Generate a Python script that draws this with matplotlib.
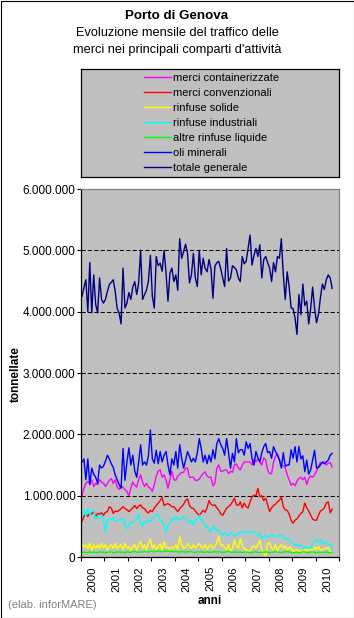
#!/usr/bin/env python3
"""Porto di Genova: monthly cargo traffic by sector, 2000-2010."""

import matplotlib

matplotlib.use("Agg")
import matplotlib.pyplot as plt
from matplotlib.lines import Line2D
from matplotlib.patches import Rectangle
from matplotlib.ticker import FixedLocator, FuncFormatter, NullFormatter

# monthly values in thousand tonnes, Jan 2000 - Sep 2010
containerizzate = [
    1000, 1120, 1200, 1230, 1200, 1260, 1150, 1200, 1180, 1260, 1220, 1200,
    1150, 1200, 1250, 1280, 1200, 1260, 1140, 1100, 1150, 1140, 1100, 1070,
    1000, 1120, 1220, 1170, 1140, 1260, 1340, 1220, 1150, 1200, 1140, 1120,
    1070, 1180, 1320, 1400, 1420, 1300, 1340, 1250, 1120, 1260, 1400, 1260,
    1250, 1320, 1350, 1380, 1380, 1450, 1450, 1300, 1300, 1300, 1250, 1250,
    1270, 1320, 1360, 1390, 1320, 1300, 1300, 1160, 1200, 1450, 1500, 1400,
    1400, 1420, 1420, 1360, 1400, 1380, 1500, 1520, 1450, 1420, 1500, 1550,
    1550, 1550, 1550, 1500, 1600, 1550, 1600, 1550, 1500, 1620, 1580, 1420,
    1360, 1360, 1550, 1640, 1680, 1600, 1500, 1480, 1450, 1340, 1260, 1170,
    1200, 1160, 1240, 1280, 1300, 1260, 1300, 1180, 1280, 1320, 1300, 1340,
    1400, 1480, 1540, 1530, 1550, 1500, 1530, 1540, 1470,
]
convenzionali = [
    580, 660, 710, 660, 720, 700, 740, 660, 710, 700, 720, 680,
    730, 740, 820, 800, 710, 750, 740, 760, 790, 820, 790, 770,
    740, 770, 800, 840, 790, 830, 850, 800, 790, 740, 720, 760,
    740, 800, 840, 880, 920, 970, 840, 860, 870, 850, 820, 820,
    780, 740, 790, 820, 860, 920, 950, 840, 800, 790, 750, 710,
    680, 720, 760, 730, 800, 920, 860, 840, 850, 800, 760, 700,
    680, 740, 800, 820, 850, 900, 960, 850, 840, 900, 800, 880,
    820, 800, 900, 980, 1010, 1000, 1120, 980, 1000, 920, 960, 850,
    740, 800, 840, 860, 900, 920, 980, 820, 770, 760, 700, 600,
    550, 600, 620, 670, 710, 740, 880, 800, 750, 680, 620, 600,
    600, 680, 750, 770, 800, 880, 900, 720, 780,
]
rinfuse_solide = [
    220, 160, 200, 140, 220, 110, 200, 140, 200, 140, 220, 150,
    200, 110, 170, 200, 140, 220, 140, 170, 200, 120, 220, 150,
    170, 110, 170, 200, 110, 200, 250, 140, 200, 120, 220, 290,
    140, 200, 110, 170, 220, 110, 250, 150, 160, 120, 160, 140,
    200, 120, 330, 200, 140, 160, 220, 170, 140, 200, 150, 180,
    220, 170, 140, 200, 120, 180, 200, 140, 170, 240, 330, 180,
    200, 150, 120, 200, 90, 140, 280, 180, 140, 300, 180, 140,
    120, 100, 100, 160, 180, 140, 200, 280, 120, 60, 10, 220,
    240, 140, 120, 200, 90, 160, 200, 140, 180, 110, 160, 140,
    90, 110, 120, 90, 110, 80, 120, 100, 140, 120, 100, 160,
    120, 170, 110, 120, 140, 140, 160, 90, 70,
]
rinfuse_industriali = [
    700, 770, 660, 790, 700, 740, 760, 620, 660, 630, 680, 620,
    410, 600, 620, 600, 640, 580, 600, 600, 600, 630, 550, 460,
    520, 570, 560, 580, 620, 700, 550, 500, 580, 560, 600, 580,
    630, 660, 700, 680, 600, 600, 520, 410, 500, 550, 630, 600,
    660, 600, 620, 630, 660, 630, 600, 550, 600, 520, 600, 620,
    680, 600, 600, 500, 490, 440, 410, 500, 470, 420, 440, 380,
    360, 400, 380, 340, 400, 370, 340, 350, 390, 400, 390, 420,
    400, 410, 400, 410, 410, 380, 360, 390, 300, 340, 350, 320,
    350, 370, 350, 340, 330, 350, 360, 320, 300, 300, 270, 260,
    230, 200, 200, 180, 200, 160, 150, 170, 140, 160, 200, 260,
    280, 250, 280, 220, 250, 220, 200, 220, 120,
]
altre_liquide = [
    70, 80, 75, 65, 85, 70, 80, 75, 70, 85, 75, 80,
    70, 75, 85, 80, 70, 75, 80, 85, 75, 80, 70, 85,
    80, 75, 85, 90, 80, 75, 85, 80, 90, 85, 80, 95,
    90, 85, 95, 100, 90, 85, 100, 95, 90, 95, 90, 85,
    90, 85, 80, 90, 85, 80, 85, 90, 85, 80, 75, 85,
    80, 85, 80, 75, 85, 80, 75, 85, 90, 80, 85, 80,
    75, 80, 85, 90, 80, 75, 85, 80, 75, 80, 70, 80,
    75, 80, 70, 75, 80, 85, 75, 70, 80, 75, 85, 80,
    70, 75, 80, 85, 80, 75, 70, 80, 85, 90, 80, 75,
    70, 75, 80, 70, 75, 85, 80, 75, 70, 80, 85, 75,
    70, 75, 80, 70, 75, 80, 75, 70, 75,
]
oli_minerali = [
    1550, 1600, 1260, 1600, 1180, 1450, 1350, 1300, 1200, 1500, 1450, 1480,
    1560, 1660, 1600, 1520, 1460, 1340, 1260, 1180, 1120, 1770, 1250, 1550,
    1780, 1500, 1660, 1400, 1300, 1550, 1830, 1500, 1550, 1500, 1650, 2070,
    1600, 1530, 1740, 1520, 1720, 1550, 1660, 1720, 1500, 1340, 1600, 1500,
    1720, 1450, 1830, 1610, 1450, 1580, 1720, 1640, 1550, 1610, 1550, 1700,
    1930, 1770, 1550, 1660, 1520, 1660, 1550, 1750, 1600, 1850, 1930, 1830,
    1770, 1660, 1930, 1700, 1450, 1690, 1550, 1930, 1700, 1750, 1750, 1660,
    1880, 1770, 1850, 1600, 1500, 1720, 1620, 1550, 1700, 1800, 1850, 1700,
    1720, 1610, 1800, 1720, 1660, 1580, 1450, 1700, 1480, 1500, 1500, 1750,
    1610, 1800, 1550, 1800, 1600, 1650, 1390, 1580, 1350, 1420, 1580, 1740,
    1450, 1460, 1500, 1550, 1520, 1550, 1580, 1660, 1690,
]
totale_generale = [
    4250, 4390, 4520, 4000, 4800, 3980, 4600, 4120, 3980, 4550, 4200, 4140,
    4200, 4330, 4440, 4480, 4520, 4330, 4050, 3980, 3800, 4710, 4060, 4140,
    4310, 4200, 4400, 4490, 4280, 4470, 5000, 4200, 4280, 4350, 4500, 4920,
    4250, 4060, 4900, 4750, 4790, 4660, 5000, 4630, 4170, 4630, 4710, 4490,
    4600, 4350, 5190, 4870, 4980, 5100, 4950, 4470, 4600, 4950, 4550, 4410,
    5000, 4600, 4870, 4710, 4650, 4850, 4700, 4220, 4740, 4800, 4820, 4700,
    4550, 4410, 5030, 4500, 4550, 4750, 4720, 4680, 4550, 4490, 4900, 4780,
    4820, 5030, 5250, 4760, 4920, 5030, 4900, 5090, 4550, 4850, 4900, 4800,
    4710, 4490, 4800, 4650, 4900, 4870, 5190, 4600, 4200, 4650, 4400, 4060,
    4050, 3900, 3630, 4280, 3950, 4450, 4100, 4170, 3800, 4050, 4400, 4060,
    3820, 3960, 4230, 4450, 4360, 4520, 4600, 4550, 4380,
]
anni = [str(y) for y in range(2000, 2011)]

series = [
    ("merci containerizzate", containerizzate, "#FF00FF"),
    ("merci convenzionali", convenzionali, "#FF0000"),
    ("rinfuse solide", rinfuse_solide, "#FFFF00"),
    ("rinfuse industriali", rinfuse_industriali, "#00FFFF"),
    ("altre rinfuse liquide", altre_liquide, "#00FF00"),
    ("oli minerali", oli_minerali, "#0000FF"),
    ("totale generale", totale_generale, "#000080"),
]

W, H = 354, 618
GREY = "#C0C0C0"

plt.rcParams.update(
    {
        "font.family": ["Liberation Sans", "DejaVu Sans"],
        "font.size": 8.5,
        "lines.scale_dashes": False,
    }
)

fig = plt.figure(figsize=(W / 100, H / 100), dpi=100)
fig.patch.set_facecolor("white")


def fx(px):
    return px / W


def fy(py):
    return 1 - py / H


# title
fig.text(0.5, fy(16), "Porto di Genova", ha="center", va="center", fontsize=9.6, fontweight="bold")
fig.text(0.5, fy(33.5), "Evoluzione mensile del traffico delle", ha="center", va="center", fontsize=9.2)
fig.text(0.5, fy(50), "merci nei principali comparti d'attività", ha="center", va="center", fontsize=9.2)

# main plot
ax = fig.add_axes([fx(81), fy(557), fx(339) - fx(81), fy(189) - fy(557)])
ax.set_facecolor(GREY)
months = [i + 0.5 for i in range(len(totale_generale))]
for label, values, color in series:
    ax.plot(months, [v * 1000 for v in values], color=color, linewidth=1.0, label=label)

ax.set_xlim(0, 132)
ax.set_ylim(0, 6_000_000)
ax.yaxis.set_major_locator(FixedLocator([i * 1_000_000 for i in range(7)]))
ax.yaxis.set_major_formatter(FuncFormatter(lambda v, _: f"{int(v):,}".replace(",", ".")))
for level in range(1, 6):
    ax.axhline(level * 1_000_000, color="black", linewidth=0.75, linestyle=(0, (3.0, 1.6)), zorder=0.5)

ax.xaxis.set_major_locator(FixedLocator([12 * k for k in range(12)]))
ax.xaxis.set_major_formatter(NullFormatter())
ax.xaxis.set_minor_locator(FixedLocator([12 * k + 6 for k in range(11)]))
ax.set_xticklabels(anni, minor=True, rotation=90, fontsize=8.2)
ax.tick_params(axis="x", which="major", direction="out", length=3, width=0.8)
ax.tick_params(axis="x", which="minor", length=0, pad=6.5)
ax.tick_params(axis="y", direction="out", length=3, width=0.8, pad=1)

for side in ("left", "bottom"):
    ax.spines[side].set_color("black")
    ax.spines[side].set_linewidth(0.9)
for side in ("top", "right"):
    ax.spines[side].set_color("#808080")
    ax.spines[side].set_linewidth(0.9)

fig.text(fx(16), fy(374), "tonnellate", rotation=90, ha="center", va="center", fontweight="bold")
fig.text(fx(210), fy(601), "anni", ha="center", va="center", fontweight="bold")
fig.text(fx(8), fy(605), "(elab. inforMARE)", ha="left", va="center", fontsize=8, color="#808080")

# legend box
lax = fig.add_axes([fx(81), fy(177), fx(339) - fx(81), fy(69) - fy(177)])
lax.set_facecolor(GREY)
lax.set_xticks([])
lax.set_yticks([])
for spine in lax.spines.values():
    spine.set_color("black")
    spine.set_linewidth(0.9)
handles = [Line2D([], [], color=color, linewidth=1.0) for _, _, color in series]
lax.legend(
    handles,
    [label for label, _, _ in series],
    loc="center left",
    bbox_to_anchor=((144 - 81) / 258, 0.5),
    frameon=False,
    borderpad=0,
    borderaxespad=0,
    handlelength=2.45,
    handletextpad=0.2,
    labelspacing=0.46,
    fontsize=8.0,
)

fig.add_artist(
    Rectangle((fx(0.5), fy(H - 0.5)), fx(W - 1), fy(0.5) - fy(H - 0.5),
              transform=fig.transFigure, fill=False, edgecolor="black", linewidth=0.8)
)

fig.savefig("out.png", dpi=100, facecolor="white")
plt.close(fig)
